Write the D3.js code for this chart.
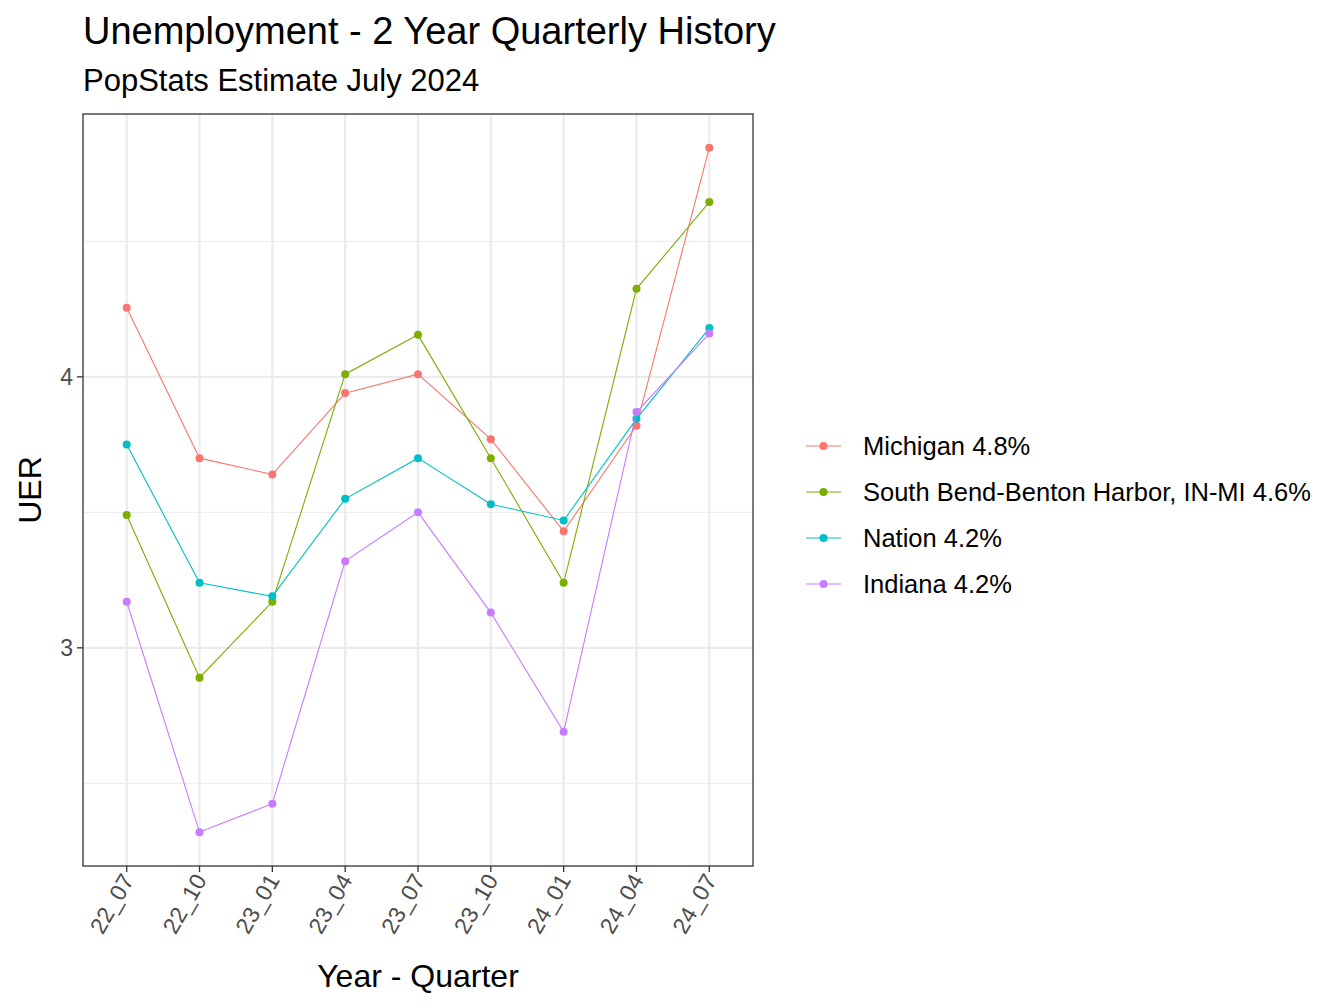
<!DOCTYPE html>
<html><head><meta charset="utf-8">
<script src="https://cdn.jsdelivr.net/npm/d3@7"></script>
<style>body{margin:0;background:#fff;font-family:Arial,"Liberation Sans",sans-serif;}</style>
</head><body>
<svg id="chart" width="1344" height="1008"></svg>
<script>
var quarters = ["22_07","22_10","23_01","23_04","23_07","23_10","24_01","24_04","24_07"];
var seriesNames = ["Michigan 4.8%","South Bend-Benton Harbor, IN-MI 4.6%","Nation 4.2%","Indiana 4.2%"];
var colors = ["#F8766D","#7CAE00","#00BFC4","#C77CFF"];
var michigan = [4.255,3.70,3.64,3.94,4.01,3.77,3.43,3.82,4.845];
var southBend = [3.49,2.89,3.17,4.01,4.155,3.70,3.24,4.325,4.645];
var nation = [3.75,3.24,3.19,3.55,3.70,3.53,3.47,3.845,4.18];
var indiana = [3.17,2.32,2.425,3.32,3.50,3.13,2.69,3.87,4.16];
var allSeries = [michigan, southBend, nation, indiana];
var majorTicks = [3,4], minorTicks = [2.5,3.5,4.5];

var svg = d3.select("#chart");
var L = 83, R = 753, T = 114, B = 866;

var x = d3.scalePoint().domain(quarters).range([L, R]).padding(0.6);
var y = d3.scaleLinear().domain([2.195, 4.97]).range([B, T]);

// grid
svg.selectAll(".minor").data(minorTicks).enter().append("line")
  .attr("x1", L).attr("x2", R).attr("y1", d => y(d)).attr("y2", d => y(d))
  .attr("stroke", "#ebebeb").attr("stroke-width", 1);
svg.selectAll(".major").data(majorTicks).enter().append("line")
  .attr("x1", L).attr("x2", R).attr("y1", d => y(d)).attr("y2", d => y(d))
  .attr("stroke", "#ebebeb").attr("stroke-width", 2.2);
svg.selectAll(".vgrid").data(quarters).enter().append("line")
  .attr("x1", d => x(d)).attr("x2", d => x(d)).attr("y1", T).attr("y2", B)
  .attr("stroke", "#ebebeb").attr("stroke-width", 2.2);

var line = d3.line().x((d, i) => x(quarters[i])).y(d => y(d));
allSeries.forEach(function(s, k) {
  svg.append("path").datum(s).attr("d", line).attr("fill", "none")
    .attr("stroke", colors[k]).attr("stroke-width", 1.1);
  svg.selectAll(".pt" + k).data(s).enter().append("circle")
    .attr("cx", (d, i) => x(quarters[i])).attr("cy", d => y(d)).attr("r", 4)
    .attr("fill", colors[k]);
});

svg.append("rect").attr("x", L).attr("y", T).attr("width", R - L).attr("height", B - T)
  .attr("fill", "none").attr("stroke", "#333").attr("stroke-width", 1.3);

// y axis
majorTicks.forEach(function(t) {
  svg.append("line").attr("x1", L - 6).attr("x2", L).attr("y1", y(t)).attr("y2", y(t)).attr("stroke", "#333").attr("stroke-width", 1.3);
  svg.append("text").attr("x", L - 10).attr("y", y(t) + 8).attr("text-anchor", "end")
    .attr("font-size", 23).attr("fill", "#4d4d4d").text(t);
});
// x axis
quarters.forEach(function(q) {
  svg.append("line").attr("x1", x(q)).attr("x2", x(q)).attr("y1", B).attr("y2", B + 6).attr("stroke", "#333").attr("stroke-width", 1.3);
  svg.append("text").attr("transform", "translate(" + (x(q) + 8) + "," + (B + 14) + ") rotate(-60)")
    .attr("text-anchor", "end").attr("font-size", 23).attr("fill", "#4d4d4d").text(q);
});

svg.append("text").attr("x", 83).attr("y", 44).attr("font-size", 38).text("Unemployment - 2 Year Quarterly History");
svg.append("text").attr("x", 83).attr("y", 91).attr("font-size", 31).text("PopStats Estimate July 2024");
svg.append("text").attr("transform", "translate(41,490) rotate(-90)").attr("text-anchor", "middle").attr("font-size", 32).text("UER");
svg.append("text").attr("x", (L + R) / 2).attr("y", 987).attr("text-anchor", "middle").attr("font-size", 32).text("Year - Quarter");

// legend
seriesNames.forEach(function(n, k) {
  var ly = 446 + k * 46;
  svg.append("line").attr("x1", 806).attr("x2", 841).attr("y1", ly).attr("y2", ly).attr("stroke", colors[k]).attr("stroke-width", 1.1);
  svg.append("circle").attr("cx", 823.5).attr("cy", ly).attr("r", 4).attr("fill", colors[k]);
  svg.append("text").attr("x", 863).attr("y", ly + 9).attr("font-size", 25.5).text(n);
});
</script>
</body></html>
